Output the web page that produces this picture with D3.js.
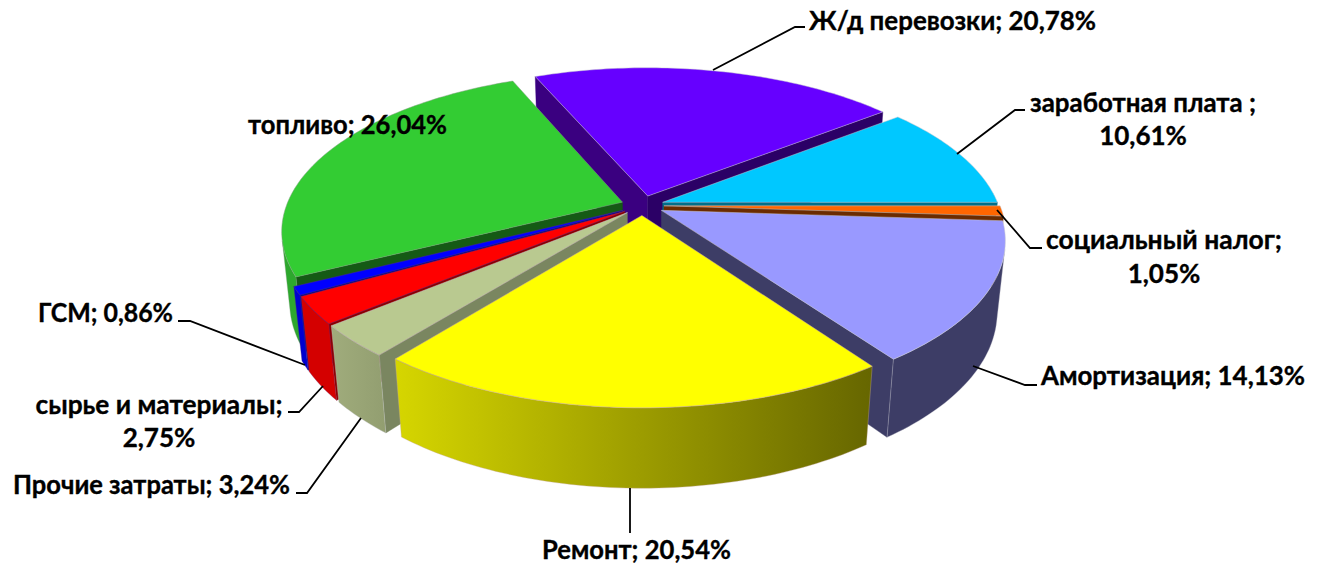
<!DOCTYPE html>
<html>
<head>
<meta charset="utf-8">
<script src="https://cdn.jsdelivr.net/npm/d3@7"></script>
<style>
  html, body { margin: 0; padding: 0; background: #fff; }
  svg { display: block; }
  text { font-family: Lato, "Open Sans", sans-serif; font-weight: 700; font-size: 26px; fill: #000; stroke: #000; stroke-width: 0.35px; }
</style>
</head>
<body>
<div id="chart"></div>
<script>
// clockwise from the first slice
const categories = ['заработная плата ', 'социальный налог', 'Амортизация', 'Ремонт', 'Прочие затраты',
  'сырье и материалы', 'ГСМ', 'топливо', 'Ж/д перевозки'];
const values = [10.61, 1.05, 14.13, 20.54, 3.24, 2.75, 0.86, 26.04, 20.78];

const topColors = ['#00c8ff', '#ff6600', '#9999ff', '#ffff00', '#b9c990', '#ff0000', '#0000ff', '#33cc33', '#6600ff'];
const startFaceColors = ['#006f8a', '#6b2b00', '#3d3d66', '#666600', '#7a8660', '#8a0000', '#00008a', '#155a15', '#3a0080'];
const endFaceColors = ['#006f8a', '#6b2b00', '#3d3d66', '#666600', '#7a8660', '#8a0000', '#00008a', '#155a15', '#2b0066'];
const rimLeftColors = ['#00a0cc', '#cc5200', '#3d3d66', '#d6d600', '#a0ac7c', '#d40000', '#0000d0', '#2da82d', '#5200cc'];
const rimRightColors = ['#00a0cc', '#cc5200', '#3d3d66', '#666600', '#929e70', '#d40000', '#0000d0', '#2da82d', '#5200cc'];
const edgeColors = ['#c8c8d0', '#c8c8d0', '#c8c8d0', '#c8a8a0', '#c8c8d0', '#7a2a6a', '#4a2a8a', '#80a080', '#c8c8d0'];

// label placement: first line width is fitted, leader runs from the slice to the text
const labelLayout = [
  { lines: 2, x: 1143, y: 111.5, w: 226, anchor: 'middle', leader: [[957, 154], [1015, 110], [1025, 110]] },
  { lines: 2, x: 1164, y: 249, w: 236, anchor: 'middle', leader: [[997, 210], [1030, 248], [1042, 248]] },
  { lines: 1, x: 1041, y: 385, w: 264, anchor: 'start', leader: [[973, 366], [1025, 385], [1037, 385]] },
  { lines: 1, x: 542, y: 559, w: 189, anchor: 'start', leader: [[630, 488], [630, 533]] },
  { lines: 1, x: 13, y: 493.5, w: 277, anchor: 'start', leader: [[361, 418], [307, 493], [296, 493]] },
  { lines: 2, x: 159, y: 413.5, w: 247, anchor: 'middle', leader: [[323, 386], [299, 412], [288, 412]] },
  { lines: 1, x: 38, y: 321.5, w: 135, anchor: 'start', leader: [[305, 365], [190, 321], [178, 321]] },
  { lines: 1, x: 248, y: 134, w: 199, anchor: 'start', leader: null },
  { lines: 1, x: 809, y: 30, w: 287, anchor: 'start', leader: [[713, 70], [795, 27], [805, 27]] }
];

const width = 1317;
const height = 564;

// camera for the tilted pie
const cx = 642.5;
const cy = 205.5;
const focal = 1680;
const distance = 4.7;
const tilt = Math.asin(0.459);
const radius = 0.94;
const explode = 0.06;
const thickness = 0.225;

function project(x, v, y) {
  const depth = distance - v * Math.cos(tilt) - y * Math.sin(tilt);
  return [
    cx + focal * x / depth,
    cy + focal * (v * Math.sin(tilt) - y * Math.cos(tilt)) / depth
  ];
}

const pie = d3.pie()
    .sort(null)
    .startAngle(51.8 * Math.PI / 180)
    .endAngle((51.8 + 360) * Math.PI / 180);

const fmt = d3.formatLocale({ decimal: ',', thousands: ' ', grouping: [3], currency: ['', ''] }).format('.2f');
const line = d3.line();

const svg = d3.select('#chart').append('svg')
    .attr('width', width)
    .attr('height', height);

const defs = svg.append('defs');

const arcs = pie(values).map((d, i) => ({ ...d, i, mid: (d.startAngle + d.endAngle) / 2 }));

// slices furthest from the viewer go first
arcs.sort((a, b) => d3.ascending(-Math.cos(a.mid), -Math.cos(b.mid)));

arcs.forEach(d => {
  const dx = explode * Math.sin(d.mid);
  const dv = -explode * Math.cos(d.mid);

  const steps = Math.max(6, Math.ceil((d.endAngle - d.startAngle) / 0.02));
  const angles = d3.range(steps + 1).map(k => d.startAngle + (d.endAngle - d.startAngle) * k / steps);
  const rim = angles.map(a => [dx + radius * Math.sin(a), dv - radius * Math.cos(a)]);
  const tip = [dx, dv];

  const top = p => project(p[0], p[1], 0);
  const bottom = p => project(p[0], p[1], -thickness);
  const quad = (p, q) => [top(p), top(q), bottom(q), bottom(p)];

  const g = svg.append('g').attr('class', 'slice');

  // radial faces
  const faces = [
    { pts: quad(tip, rim[0]), color: startFaceColors[d.i] },
    { pts: quad(rim[rim.length - 1], tip), color: endFaceColors[d.i] }
  ];
  faces.filter(f => d3.polygonArea(f.pts) > 0).forEach(f => {
    g.append('path')
        .attr('d', line(f.pts) + 'Z')
        .attr('fill', f.color)
        .attr('stroke', f.color)
        .attr('stroke-width', 0.4);
  });

  // outer wall, only the part turned to the viewer
  const front = d3.range(rim.length - 1)
      .filter(k => d3.polygonArea(quad(rim[k], rim[k + 1])) > 0);
  if (front.length) {
    const shown = rim.slice(front[0], front[front.length - 1] + 2);
    const pts = shown.map(top).concat(shown.map(bottom).reverse());
    const xs = d3.extent(pts, p => p[0]);
    const id = 'rim-' + d.i;
    const grad = defs.append('linearGradient')
        .attr('id', id)
        .attr('gradientUnits', 'userSpaceOnUse')
        .attr('x1', xs[0]).attr('x2', xs[1])
        .attr('y1', 0).attr('y2', 0);
    grad.append('stop').attr('offset', 0).attr('stop-color', rimLeftColors[d.i]);
    grad.append('stop').attr('offset', 1).attr('stop-color', rimRightColors[d.i]);
    g.append('path')
        .attr('d', line(pts) + 'Z')
        .attr('fill', `url(#${id})`)
        .attr('stroke', edgeColors[d.i])
        .attr('stroke-opacity', 0.6)
        .attr('stroke-width', 0.6);
  }

  // top surface
  g.append('path')
      .attr('d', line([tip].concat(rim).map(top)) + 'Z')
      .attr('fill', topColors[d.i])
      .attr('stroke', edgeColors[d.i])
      .attr('stroke-opacity', 0.7)
      .attr('stroke-width', 0.7);
});

// leaders and labels
const labels = svg.append('g').attr('class', 'labels');

labelLayout.forEach((l, i) => {
  if (l.leader) {
    labels.append('path')
        .attr('d', line(l.leader))
        .attr('fill', 'none')
        .attr('stroke', '#000')
        .attr('stroke-width', 1.8);
  }
  const pct = fmt(values[i]) + '%';
  const first = l.lines === 2 ? categories[i] + ';' : categories[i] + '; ' + pct;
  labels.append('text')
      .attr('text-anchor', l.anchor)
      .attr('x', l.x)
      .attr('y', l.y)
      .attr('textLength', l.w)
      .attr('lengthAdjust', 'spacingAndGlyphs')
      .text(first);
  if (l.lines === 2) {
    labels.append('text')
        .attr('text-anchor', l.anchor)
        .attr('x', l.x)
        .attr('y', l.y + 33.5)
        .text(pct);
  }
});
</script>
</body>
</html>
